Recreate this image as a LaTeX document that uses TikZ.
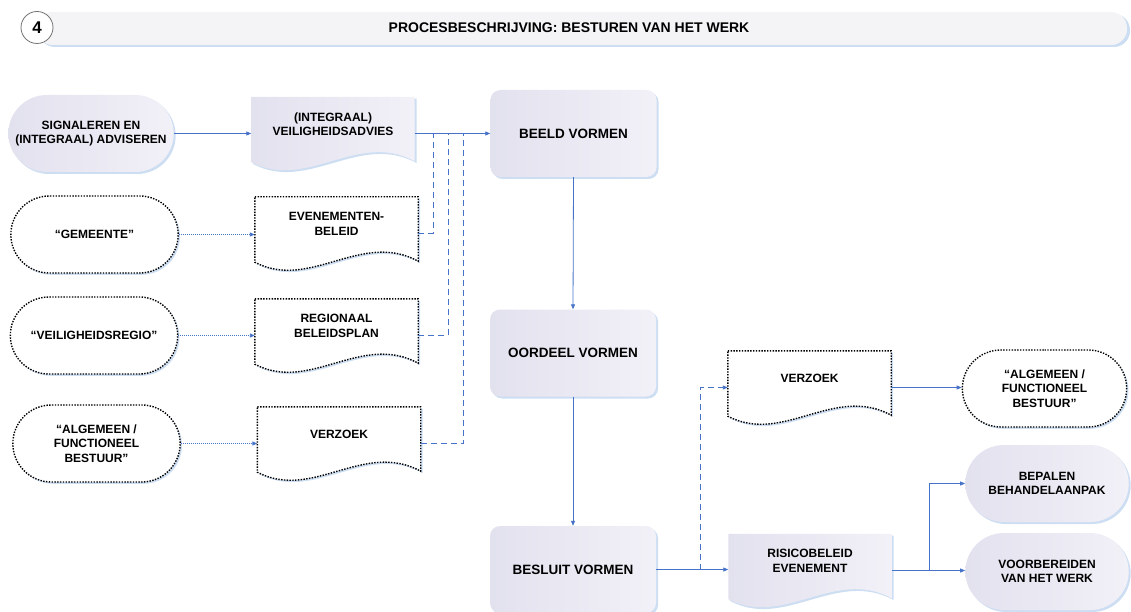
\documentclass[tikz,border=0pt]{standalone}
\usepackage{fontspec}
\setmainfont{Liberation Sans}
\usetikzlibrary{arrows.meta,shapes.misc,shadows,calc}
\definecolor{lnblue}{RGB}{70,115,200}
\definecolor{lavL}{RGB}{226,225,238}
\definecolor{lavR}{RGB}{242,241,248}
\definecolor{shblue}{RGB}{205,222,242}
\definecolor{barfill}{RGB}{244,244,246}
\tikzset{
 base/.style={font=\bfseries\fontsize{12}{14.5}\selectfont, align=center, text=black},
 procbox/.style={base, font=\bfseries\fontsize{13.5}{16}\selectfont, rectangle, rounded corners=10pt,
   minimum width=166pt, minimum height=87pt, left color=lavL, right color=lavR,
   drop shadow={shadow xshift=2pt,shadow yshift=-2pt,fill=shblue,opacity=1}},
 termfill/.style={base, rounded rectangle, minimum width=172pt, minimum height=77pt,
   left color=lavL, right color=lavR,
   drop shadow={shadow xshift=2pt,shadow yshift=-2pt,fill=shblue,opacity=1}},
 termdot/.style={base, rounded rectangle, minimum width=174pt, minimum height=77pt,
   draw=black, line width=1.4pt, dash pattern=on 1.4pt off 1.4pt, fill=white,
   drop shadow={shadow xshift=1.8pt,shadow yshift=-1.8pt,fill=shblue,opacity=1}},
 docnode/.style={rectangle, minimum width=163pt, minimum height=73pt, inner sep=0pt},
 solidarrow/.style={draw=lnblue, line width=0.8pt, -{Triangle[length=5pt,width=4pt]}},
 dotarrow/.style={draw=lnblue, line width=0.9pt, dash pattern=on 1pt off 1pt, -{Triangle[length=5pt,width=4pt]}},
 dashline/.style={draw=lnblue, line width=0.9pt, dash pattern=on 6pt off 4pt},
 dashtip/.style={dashline, -{Triangle[length=5pt,width=4pt]}},
 docshadow/.style={fill=shblue, transform canvas={shift={(1.8pt,-1.8pt)}}},
 docdot/.style={fill=white, draw=black, line width=1.4pt, dash pattern=on 1.4pt off 1.4pt},
 docfill/.style={left color=lavL, right color=lavR},
}
\newcommand\docoutline[2]{%
 \path[#2] (#1.north west) -- (#1.north east) -- ($(#1.south east)+(0,-9)$)
   .. controls ($(#1.south east)+(-57,-40)$) and ($(#1.south west)+(55,21)$) ..
   ($(#1.south west)+(0,-8)$) -- cycle;}
\begin{document}
\begin{tikzpicture}[x=1pt,y=-1pt]
\useasboundingbox (0,0) rectangle (1131,612);
\clip (0,0) rectangle (1131,612);
% header
\path[fill=shblue, rounded corners=16pt] (39,14) rectangle (1130,47);
\path[fill=barfill, rounded corners=16pt] (37,12) rectangle (1127,45);
\node[circle, draw=black!55, line width=0.8pt, fill=white, minimum size=32pt, inner sep=0pt,
  font=\bfseries\fontsize{17}{17}\selectfont] (num) at (37,27.5) {4};
\node[font=\bfseries\fontsize{14}{16}\selectfont] (title) at (569,28) {PROCESBESCHRIJVING: BESTUREN VAN HET WERK};

% process boxes
\node[procbox] (beeld) at (573.5,133.5) {BEELD VORMEN};
\node[procbox] (oordeel) at (573,353) {OORDEEL VORMEN};
\node[procbox] (besluit) at (573,569.5) {BESLUIT VORMEN};

% left terminals
\node[termfill] (signal) at (91,133.5) {SIGNALEREN EN\\(INTEGRAAL) ADVISEREN};
\node[termdot] (gem) at (94.5,234.5) {“GEMEENTE”};
\node[termdot] (veil) at (94,335.5) {“VEILIGHEIDSREGIO”};
\node[termdot] (algL) at (96.5,443.5) {“ALGEMEEN /\\FUNCTIONEEL\\BESTUUR”};

% right terminals
\node[termdot, minimum width=171pt] (algR) at (1044.5,388.5) {“ALGEMEEN /\\FUNCTIONEEL\\BESTUUR”};
\node[termfill, minimum width=170pt] (bep) at (1047,483.5) {BEPALEN\\BEHANDELAANPAK};
\node[termfill, minimum width=170pt] (voor) at (1047,571.5) {VOORBEREIDEN\\VAN HET WERK};

% documents
\node[docnode] (integ) at (333,133.5) {};
\node[docnode] (evb) at (336.5,233.5) {};
\node[docnode] (reg) at (336.5,335.5) {};
\node[docnode] (verzL) at (339,443.5) {};
\node[docnode] (verzR) at (809.5,387.5) {};
\node[docnode] (risico) at (810,570.5) {};

\docoutline{integ}{docshadow}
\docoutline{integ}{docfill}
\docoutline{risico}{docshadow}
\docoutline{risico}{docfill}
\docoutline{evb}{docshadow}
\docoutline{evb}{docdot}
\docoutline{reg}{docshadow}
\docoutline{reg}{docdot}
\docoutline{verzL}{docshadow}
\docoutline{verzL}{docdot}
\docoutline{verzR}{docshadow}
\docoutline{verzR}{docdot}

\node[base] (integT) at (333,124) {(INTEGRAAL)\\VEILIGHEIDSADVIES};
\node[base] (evbT) at (336.5,224) {EVENEMENTEN-\\BELEID};
\node[base] (regT) at (336.5,326) {REGIONAAL\\BELEIDSPLAN};
\node[base] (verzLT) at (339,434) {VERZOEK};
\node[base] (verzRT) at (809.5,378) {VERZOEK};
\node[base] (risicoT) at (810,561) {RISICOBELEID\\EVENEMENT};

% junctions
\coordinate (j1) at (433,133.5);
\coordinate (j2) at (448,133.5);
\coordinate (j3) at (463,133.5);
\coordinate (jd) at (700,569.5);
\coordinate (jr) at (929,570.5);

% connectors
\draw[solidarrow] (signal.east) -- (integ.west);
\draw[solidarrow] (integ.east) -- (beeld.west);
\draw[dotarrow] (gem.east) -- (gem.east -| evb.west);
\draw[dotarrow] (veil.east) -- (veil.east -| reg.west);
\draw[dotarrow] (algL.east) -- (algL.east -| verzL.west);
\draw[dashline] (evb.east) -| (j1);
\draw[dashline] (reg.east) -| (j2);
\draw[dashline] (verzL.east) -| (j3);
\draw[solidarrow] (beeld.south) -- (oordeel.north);
\draw[solidarrow] (oordeel.south) -- (besluit.north);
\draw[solidarrow] (besluit.east) -- (besluit.east -| risico.west);
\draw[dashtip] (jd) |- (verzR.west);
\draw[solidarrow] (verzR.east) -- (verzR.east -| algR.west);
\draw[solidarrow] (risico.east) -- (risico.east -| voor.west);
\draw[solidarrow] (jr) |- (bep.west);
\end{tikzpicture}
\end{document}
